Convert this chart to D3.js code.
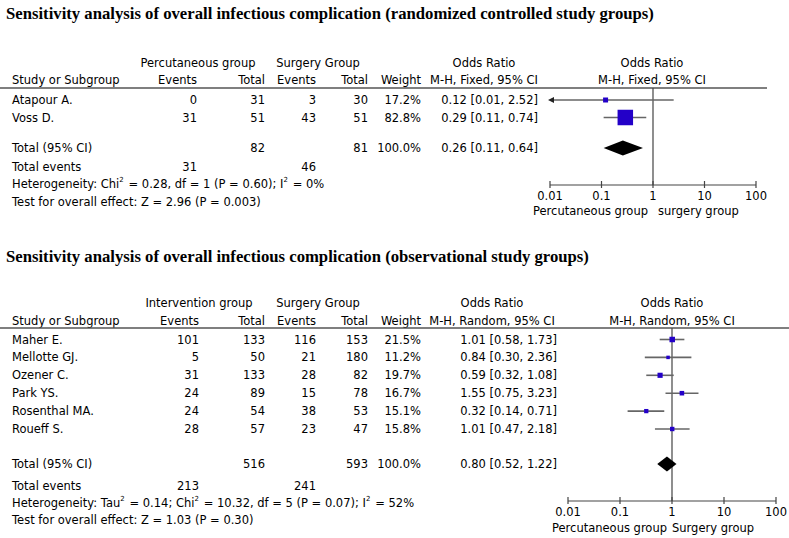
<!DOCTYPE html>
<html><head><meta charset="utf-8">
<script src="https://cdn.jsdelivr.net/npm/d3@7/dist/d3.min.js"></script>
<style>
body{margin:0;background:#fff;}
svg{display:block;}
text{font-family:"DejaVu Sans",sans-serif;font-size:11.5px;fill:#000;}
.title{font-family:"Liberation Serif","Times New Roman",serif;font-weight:bold;font-size:16.7px;fill:#000;}
</style></head><body>
<script>
// ---------- Panel 1 data (randomized controlled study groups) ----------
const studies1 = ["Atapour A.", "Voss D."];
const expEvents1 = [0, 31];
const expTotal1 = [31, 51];
const ctrlEvents1 = [3, 43];
const ctrlTotal1 = [30, 51];
const weights1 = [17.2, 82.8];
const or1 = [0.12, 0.29];
const lo1 = [0.01, 0.11];
const hi1 = [2.52, 0.74];
const total1 = {exp: 82, ctrl: 81, weight: "100.0%", or: 0.26, lo: 0.11, hi: 0.64, expEv: 31, ctrlEv: 46};
const het1 = ["Heterogeneity: Chi² = 0.28, df = 1 (P = 0.60); I² = 0%", "Test for overall effect: Z = 2.96 (P = 0.003)"];

// ---------- Panel 2 data (observational study groups) ----------
const studies2 = ["Maher E.", "Mellotte GJ.", "Ozener C.", "Park YS.", "Rosenthal MA.", "Roueff S."];
const expEvents2 = [101, 5, 31, 24, 24, 28];
const expTotal2 = [133, 50, 133, 89, 54, 57];
const ctrlEvents2 = [116, 21, 28, 15, 38, 23];
const ctrlTotal2 = [153, 180, 82, 78, 53, 47];
const weights2 = [21.5, 11.2, 19.7, 16.7, 15.1, 15.8];
const or2 = [1.01, 0.84, 0.59, 1.55, 0.32, 1.01];
const lo2 = [0.58, 0.30, 0.32, 0.75, 0.14, 0.47];
const hi2 = [1.73, 2.36, 1.08, 3.23, 0.71, 2.18];
const total2 = {exp: 516, ctrl: 593, weight: "100.0%", or: 0.80, lo: 0.52, hi: 1.22, expEv: 213, ctrlEv: 241};
const het2 = ["Heterogeneity: Tau² = 0.14; Chi² = 10.32, df = 5 (P = 0.07); I² = 52%", "Test for overall effect: Z = 1.03 (P = 0.30)"];

const axisTicks = [0.01, 0.1, 1, 10, 100];
const tickLabels = ["0.01", "0.1", "1", "10", "100"];

const W = 789, H = 538;
const svg = d3.select("body").append("svg").attr("width", W).attr("height", H);

function fmt(v){ return v.toFixed(2); }

function panel(cfg){
  const g = svg.append("g");
  const T = (x,y,txt,anchor)=> g.append("text").attr("x",x).attr("y",y).attr("dominant-baseline","central")
      .attr("text-anchor",anchor||"start").text(txt);

  g.append("text").attr("class","title").attr("x",6).attr("y",cfg.titleY).attr("dominant-baseline","central").text(cfg.title);

  // headers
  T(cfg.hc.exp, cfg.h1, cfg.expName, "middle");
  T(cfg.hc.ctrl, cfg.h1, "Surgery Group", "middle");
  T(cfg.hc.or, cfg.h1, "Odds Ratio", "middle");
  T(cfg.hc.plot, cfg.h1, "Odds Ratio", "middle");
  T(12, cfg.h2, "Study or Subgroup");
  T(cfg.col.events1, cfg.h2, "Events", "end");
  T(cfg.col.total1, cfg.h2, "Total", "end");
  T(cfg.col.events2, cfg.h2, "Events", "end");
  T(cfg.col.total2, cfg.h2, "Total", "end");
  T(cfg.col.weight, cfg.h2, "Weight", "end");
  T(cfg.hc.or, cfg.h2, cfg.method, "middle");
  T(cfg.hc.plot, cfg.h2, cfg.method, "middle");

  g.append("line").attr("x1",0).attr("x2",cfg.lineEnd).attr("y1",cfg.line).attr("y2",cfg.line)
    .attr("stroke","#555").attr("stroke-width",1.6);

  const x = d3.scaleLog().domain([0.01,100]).range(cfg.xr);
  const y = d3.scalePoint().domain(cfg.studies).range([cfg.row0, cfg.row0 + cfg.rowStep*(cfg.studies.length-1)]);
  const size = d3.scaleLinear().domain(cfg.sizeDomain).range(cfg.sizeRange);

  cfg.studies.forEach((s,i)=>{
    const yy = y(s);
    T(12, yy, s);
    T(cfg.col.events1, yy, cfg.ev[i], "end");
    T(cfg.col.total1, yy, cfg.tot[i], "end");
    T(cfg.col.events2, yy, cfg.cev[i], "end");
    T(cfg.col.total2, yy, cfg.ctot[i], "end");
    T(cfg.col.weight, yy, cfg.w[i].toFixed(1)+"%", "end");
    T(cfg.col.or, yy, `${fmt(cfg.or[i])} [${fmt(cfg.lo[i])}, ${fmt(cfg.hi[i])}]`, "end");
  });

  // vertical line of no effect
  g.append("line").attr("x1",x(1)).attr("x2",x(1)).attr("y1",cfg.line).attr("y2",cfg.axisY)
    .attr("stroke","#444").attr("stroke-width",1.2);

  cfg.studies.forEach((s,i)=>{
    const yy = y(s);
    const l = Math.max(cfg.lo[i], 0.01), h = Math.min(cfg.hi[i], 100);
    g.append("line").attr("x1",x(l)).attr("x2",x(h)).attr("y1",yy).attr("y2",yy)
      .attr("stroke","#666").attr("stroke-width",1.6);
    if(cfg.lo[i] <= 0.01){
      const ax = x(0.01);
      g.append("path").attr("d",`M${ax-2},${yy} L${ax+4},${yy-3} L${ax+4},${yy+3} Z`).attr("fill","#222");
    }
    const sz = size(cfg.w[i]);
    g.append("rect").attr("x",x(cfg.or[i])-sz/2).attr("y",yy-sz/2).attr("width",sz).attr("height",sz)
      .attr("fill","#2300c8");
  });

  // totals
  T(12, cfg.totY, "Total (95% CI)");
  T(cfg.col.total1, cfg.totY, cfg.total.exp, "end");
  T(cfg.col.total2, cfg.totY, cfg.total.ctrl, "end");
  T(cfg.col.weight, cfg.totY, cfg.total.weight, "end");
  T(cfg.col.or, cfg.totY, `${fmt(cfg.total.or)} [${fmt(cfg.total.lo)}, ${fmt(cfg.total.hi)}]`, "end");
  const dh = 7.5;
  g.append("path").attr("d",`M${x(cfg.total.lo)},${cfg.totY} L${x(cfg.total.or)},${cfg.totY-dh} L${x(cfg.total.hi)},${cfg.totY} L${x(cfg.total.or)},${cfg.totY+dh} Z`)
    .attr("fill","#000");

  T(12, cfg.evY, "Total events");
  T(cfg.col.events1, cfg.evY, cfg.total.expEv, "end");
  T(cfg.col.events2, cfg.evY, cfg.total.ctrlEv, "end");

  [cfg.hetY, cfg.testY].forEach((yy,k)=>{
    const t = g.append("text").attr("x",12).attr("y",yy).attr("dominant-baseline","central");
    const parts = cfg.het[k].split("²");
    parts.forEach((p,i)=>{
      t.append("tspan").text(p);
      if(i<parts.length-1){
        t.append("tspan").attr("font-size","7px").attr("dy",-4).text("2");
        t.append("tspan").attr("dy",4).text("\u200A");
      }
    });
  });

  // axis
  const axisG = g.append("g").attr("transform",`translate(0,${cfg.axisY})`);
  axisG.append("line").attr("x1",cfg.xr[0]).attr("x2",cfg.xr[1]).attr("stroke","#444").attr("stroke-width",1.2);
  axisTicks.forEach((t,i)=>{
    axisG.append("line").attr("x1",x(t)).attr("x2",x(t)).attr("y1",-4).attr("y2",3).attr("stroke","#444").attr("stroke-width",1.2);
    axisG.append("text").attr("x",x(t)).attr("y",cfg.tickY-cfg.axisY).attr("dominant-baseline","central")
      .attr("text-anchor","middle").text(tickLabels[i]);
  });
  T(x(1)-cfg.lblGap[0], cfg.lblY, "Percutaneous group", "end");
  T(x(1)+cfg.lblGap[1], cfg.lblY, cfg.rightLabel, "start");
}

panel({
  title: "Sensitivity analysis of overall infectious complication (randomized controlled study groups)",
  titleY: 13, expName: "Percutaneous group", method: "M-H, Fixed, 95% CI",
  h1: 63, h2: 80, line: 88, lineEnd: 767,
  col: {events1: 197, total1: 265, events2: 316, total2: 368, weight: 421, or: 538},
  hc: {exp: 198, ctrl: 318, or: 484, plot: 652},
  studies: studies1, ev: expEvents1, tot: expTotal1, cev: ctrlEvents1, ctot: ctrlTotal1,
  w: weights1, or: or1, lo: lo1, hi: hi1, total: total1, het: het1,
  row0: 100, rowStep: 17.5,
  sizeDomain: [17.2, 82.8], sizeRange: [5, 15.5],
  xr: [550, 756], axisY: 185, tickY: 196, lblY: 211, lblGap: [5, 5], rightLabel: "surgery group",
  totY: 148, evY: 167, hetY: 184, testY: 202
});

panel({
  title: "Sensitivity analysis of overall infectious complication (observational study groups)",
  titleY: 256, expName: "Intervention group", method: "M-H, Random, 95% CI",
  h1: 303, h2: 321, line: 328, lineEnd: 789,
  col: {events1: 199, total1: 265, events2: 316, total2: 368, weight: 421, or: 557},
  hc: {exp: 199, ctrl: 318, or: 492, plot: 672},
  studies: studies2, ev: expEvents2, tot: expTotal2, cev: ctrlEvents2, ctot: ctrlTotal2,
  w: weights2, or: or2, lo: lo2, hi: hi2, total: total2, het: het2,
  row0: 339.5, rowStep: 17.9,
  sizeDomain: [11.2, 21.5], sizeRange: [3.5, 5.5],
  xr: [568, 776], axisY: 501, tickY: 512, lblY: 528, lblGap: [5, 0], rightLabel: "Surgery group",
  totY: 464, evY: 486, hetY: 503, testY: 520
});
</script>
</body></html>
